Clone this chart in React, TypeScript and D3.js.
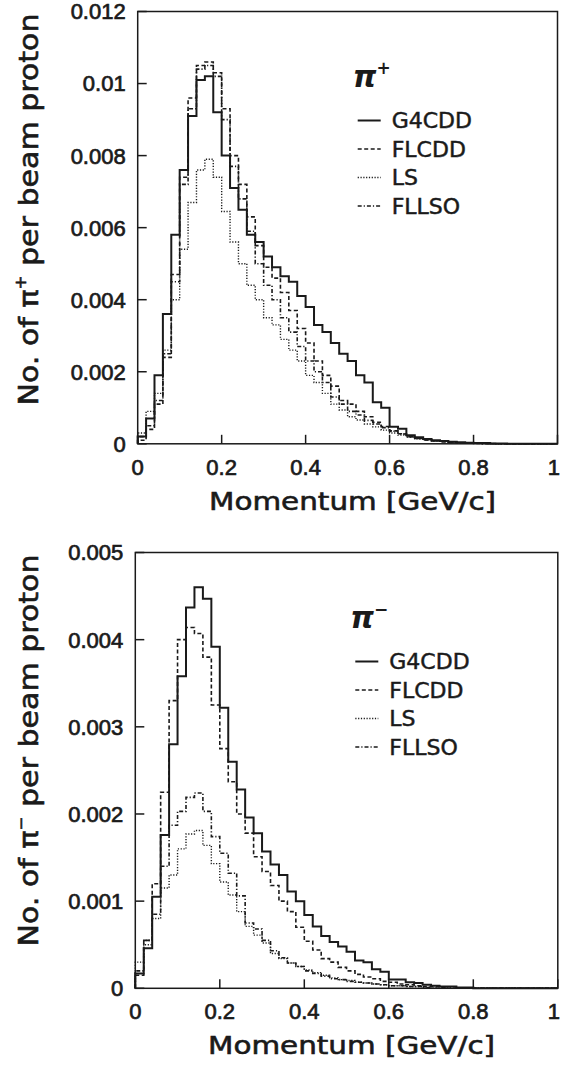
import React from "react";
import * as d3 from "d3";

// ---- data (50 bins, 0.02 GeV/c wide, 0..1 GeV/c) ----
const binEdges = d3.range(0, 51).map((i) => i * 0.02);

const piPlusG4CDD = [0.0002, 0.0007, 0.0019, 0.0036, 0.0058, 0.0076, 0.0091, 0.0101, 0.0102, 0.0092,
  0.008, 0.0071, 0.0065, 0.0058, 0.0056, 0.0052, 0.0049, 0.00465, 0.0045, 0.0041,
  0.0038, 0.0033, 0.0031, 0.0028, 0.0025, 0.0023, 0.0019, 0.0017, 0.00115, 0.001,
  0.00047, 0.00042, 0.00024, 0.00018, 0.00013, 0.0001, 0.00008, 0.00006, 0.00004, 0.00003,
  0.00002, 0.00002, 0.00001, 0.00001, 0, 0, 0, 0, 0, 0];
const piPlusFLCDD = [0.0001, 0.0004, 0.0011, 0.0024, 0.0047, 0.0074, 0.0096, 0.0105, 0.0106, 0.0103,
  0.0093, 0.008, 0.0072, 0.0063, 0.0055, 0.0049, 0.0046, 0.0042, 0.0037, 0.0032,
  0.0028, 0.0023, 0.0019, 0.0016, 0.0012, 0.0011, 0.0009, 0.00075, 0.0006, 0.00048,
  0.00036, 0.00028, 0.0002, 0.00015, 0.00011, 0.00008, 0.00006, 0.00004, 0.00003, 0.00002,
  0.00002, 0.00001, 0.00001, 0, 0, 0, 0, 0, 0, 0];
const piPlusLS = [0.0003, 0.0009, 0.0014, 0.0026, 0.004, 0.0054, 0.0067, 0.0076, 0.0079, 0.0074,
  0.00645, 0.0056, 0.005, 0.0044, 0.004, 0.0035, 0.0033, 0.0029, 0.0026, 0.0023,
  0.0019, 0.0017, 0.0014, 0.0011, 0.00094, 0.00075, 0.00066, 0.00055, 0.00047, 0.00038,
  0.0003, 0.00024, 0.00019, 0.00014, 0.00011, 0.00008, 0.00006, 0.00004, 0.00003, 0.00002,
  0.00002, 0.00001, 0, 0, 0, 0, 0, 0, 0, 0];
const piPlusFLLSO = [0.0002, 0.0005, 0.0012, 0.0025, 0.0045, 0.0072, 0.0093, 0.0104, 0.0105, 0.0102,
  0.009, 0.0077, 0.0068, 0.0059, 0.005, 0.0044, 0.004, 0.0035, 0.0031, 0.0027,
  0.0023, 0.002, 0.0017, 0.0013, 0.0011, 0.0009, 0.0008, 0.00065, 0.00055, 0.00045,
  0.00035, 0.00027, 0.0002, 0.00015, 0.00011, 0.00008, 0.00006, 0.00004, 0.00003, 0.00002,
  0.00001, 0, 0, 0, 0, 0, 0, 0, 0, 0];

const piMinusG4CDD = [0.00017, 0.00046, 0.00105, 0.00176, 0.0028, 0.00358, 0.00437, 0.0046, 0.00447, 0.00392,
  0.00322, 0.0026, 0.00228, 0.00196, 0.00178, 0.00157, 0.00142, 0.0013, 0.00111, 0.001,
  0.00084, 0.00071, 0.0006, 0.00053, 0.00048, 0.00042, 0.00032, 0.0003, 0.00022, 0.00019,
  0.0001, 0.0001, 0.00007, 0.00006, 0.00004, 0.00003, 0.00002, 0.00002, 0.00001, 0.00001,
  0, 0, 0, 0, 0, 0, 0, 0, 0, 0];
const piMinusFLCDD = [0.00015, 0.00055, 0.0012, 0.00225, 0.0033, 0.004, 0.00414, 0.00407, 0.0038, 0.00325,
  0.00275, 0.00237, 0.002, 0.00178, 0.00151, 0.00134, 0.00118, 0.001, 0.00088, 0.0007,
  0.00054, 0.00044, 0.00034, 0.0003, 0.00024, 0.0002, 0.00016, 0.00013, 0.00011, 0.00008,
  0.00007, 0.00005, 0.00004, 0.00003, 0.00002, 0.00002, 0.00001, 0, 0, 0,
  0, 0, 0, 0, 0, 0, 0, 0, 0, 0];
const piMinusLS = [0.0003, 0.0005, 0.0008, 0.00115, 0.0013, 0.0016, 0.00177, 0.00181, 0.00164, 0.00143,
  0.00122, 0.00107, 0.00088, 0.00071, 0.00061, 0.00052, 0.0004, 0.00034, 0.00029, 0.00025,
  0.00021, 0.00018, 0.00015, 0.00012, 0.0001, 0.00009, 0.00007, 0.00006, 0.00005, 0.00004,
  0.00003, 0.00003, 0.00002, 0.00002, 0.00001, 0, 0, 0, 0, 0,
  0, 0, 0, 0, 0, 0, 0, 0, 0, 0];
const piMinusFLLSO = [0.0002, 0.00055, 0.00085, 0.0014, 0.00187, 0.00203, 0.00219, 0.00224, 0.00203, 0.00174,
  0.00155, 0.00132, 0.00106, 0.00075, 0.00068, 0.00055, 0.00043, 0.00035, 0.00029, 0.00025,
  0.0002, 0.00017, 0.00014, 0.00011, 0.0001, 0.00008, 0.00007, 0.00006, 0.00005, 0.00004,
  0.00003, 0.00003, 0.00002, 0.00002, 0.00001, 0, 0, 0, 0, 0,
  0, 0, 0, 0, 0, 0, 0, 0, 0, 0];

const legendNames = ["G4CDD", "FLCDD", "LS", "FLLSO"];
const xTicks = [0, 0.2, 0.4, 0.6, 0.8, 1];
const topYTicks = [0, 0.002, 0.004, 0.006, 0.008, 0.01, 0.012];
const bottomYTicks = [0, 0.001, 0.002, 0.003, 0.004, 0.005];

const dashes = [null, "4,2.5", "1.2,1.6", "4,2,1.2,2"];
const widths = [2, 1.6, 1.4, 1.6];
const ink = "#1a1a1a";
const tickFont = "Liberation Sans, Arial, sans-serif";
const titleFont = "DejaVu Sans, sans-serif";

type PanelProps = {
  x0: number; x1: number; yTop: number; yBot: number; yMax: number;
  yTicks: number[]; series: number[][]; charge: string;
};

function Panel({ x0, x1, yTop, yBot, yMax, yTicks, series, charge }: PanelProps) {
  const x = d3.scaleLinear().domain([0, 1]).range([x0, x1]);
  const y = d3.scaleLinear().domain([0, yMax]).range([yBot, yTop]);
  const line = d3.line<[number, number]>().x((d) => x(d[0])).y((d) => y(d[1])).curve(d3.curveStepAfter);
  const paths = series.map((vals) => {
    const pts: [number, number][] = [[0, 0]];
    vals.forEach((v, i) => pts.push([binEdges[i], v]));
    pts.push([1, vals[vals.length - 1]]);
    return line(pts) || "";
  });
  const legX = x0 + 220;
  const legY0 = yTop + 109;
  const legDy = 28.5;
  return (
    <g>
      {paths.map((d, i) => (
        <path key={i} d={d} fill="none" stroke={ink} strokeWidth={widths[i]}
          strokeDasharray={dashes[i] || undefined} />
      ))}
      <rect x={x0} y={yTop} width={x1 - x0} height={yBot - yTop} fill="none" stroke={ink} strokeWidth={1.5} />
      {yTicks.map((t) => (
        <g key={t}>
          <line x1={x0} x2={x0 + 9} y1={y(t)} y2={y(t)} stroke={ink} strokeWidth={1.5} />
          <text x={x0 - 12} y={y(t)} dy="0.36em" textAnchor="end" fontSize={22} fontFamily={tickFont}
            fill={ink} stroke={ink} strokeWidth={0.7}>{String(t)}</text>
        </g>
      ))}
      {xTicks.map((t) => (
        <g key={t}>
          <line x1={x(t)} x2={x(t)} y1={yBot} y2={yBot - 9} stroke={ink} strokeWidth={1.5} />
          <text x={t === 1 ? 560 : x(t)} y={yBot + 31} textAnchor={t === 1 ? "end" : "middle"} fontSize={22}
            fontFamily={tickFont} fill={ink} stroke={ink} strokeWidth={0.7}>{String(t)}</text>
        </g>
      ))}
      <text x={(x0 + x1) / 2 + 5} y={yBot + 66} textAnchor="middle" fontSize={25}
        fontFamily={titleFont} fill={ink} stroke={ink} strokeWidth={0.6}
        textLength={287} lengthAdjust="spacingAndGlyphs">
        Momentum [GeV/c]
      </text>
      <text transform={`translate(${38},${yTop + 198}) rotate(-90)`} textAnchor="middle" fontSize={27}
        fontFamily={titleFont} fill={ink} stroke={ink} strokeWidth={0.6}
        textLength={392} lengthAdjust="spacingAndGlyphs">
        No. of π<tspan fontSize={15} dy={-12}>{charge}</tspan><tspan dy={12}> per beam proton</tspan>
      </text>
      <text x={legX - 5} y={yTop + 75} fontSize={30} fontFamily={titleFont} fontStyle="italic"
        fontWeight="bold" fill={ink}>
        π<tspan fontSize={17} dy={-13}>{charge}</tspan>
      </text>
      {legendNames.map((n, i) => (
        <g key={n}>
          <line x1={legX} x2={legX + 23} y1={legY0 + i * legDy} y2={legY0 + i * legDy} stroke={ink}
            strokeWidth={widths[i]} strokeDasharray={dashes[i] || undefined} />
          <text x={legX + 34} y={legY0 + i * legDy} dy="0.36em" fontSize={22}
            fontFamily={titleFont} fill={ink} stroke={ink} strokeWidth={0.5}>{n}</text>
        </g>
      ))}
    </g>
  );
}

export default function App() {
  return (
    <svg width={561} height={1065} style={{ position: "absolute", left: 0, top: 0, background: "#fff" }}>
      <rect x={0} y={0} width={561} height={1065} fill="#fff" />
      <Panel x0={137.7} x1={557.5} yTop={11.5} yBot={443.8} yMax={0.012} yTicks={topYTicks}
        series={[piPlusG4CDD, piPlusFLCDD, piPlusLS, piPlusFLLSO]} charge="+" />
      <Panel x0={135.3} x1={557.8} yTop={552.5} yBot={988.3} yMax={0.005} yTicks={bottomYTicks}
        series={[piMinusG4CDD, piMinusFLCDD, piMinusLS, piMinusFLLSO]} charge="−" />
    </svg>
  );
}
